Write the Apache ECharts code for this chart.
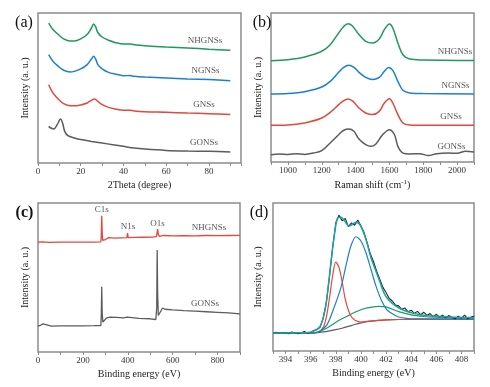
<!DOCTYPE html>
<html><head><meta charset="utf-8">
<script src="https://cdn.jsdelivr.net/npm/echarts@6/dist/echarts.min.js"></script>
<style>html,body{margin:0;padding:0;background:#fff}#c{width:490px;height:387px}</style>
</head><body><div id="c"></div>
<script>
// ---------- Panel (a): XRD, 2Theta (degree) vs intensity (a.u., offset) ----------
const aNHGNSs = [[5,93.3],[7,89],[10,85],[12,82.7],[15,81.3],[17,81.3],[20,82.7],[23,85.6],[25,90],[26,92.7],[27,90.7],[28,87],[30,84],[33,81.8],[36,80.4],[40,79.3],[43,79.4],[45,78.9],[50,78.2],[60,77.3],[70,76.7],[80,75.8],[90,75.1]];
const aNGNSs  = [[5,72.2],[7,67.8],[10,63.8],[12,61.8],[15,60.7],[17,61.1],[20,62.7],[23,65.6],[25,69.3],[26,71.1],[27,69.3],[28,65.6],[30,62.7],[33,60.4],[36,59.3],[40,58.2],[43,58.3],[45,57.8],[50,57.3],[60,56.7],[70,56],[80,55.6],[90,54.9]];
const aGNSs   = [[5,52.2],[7,46.7],[10,41.8],[12,39.6],[15,38.2],[18,38.2],[20,38.7],[23,40],[25,41.8],[26.5,42.7],[28,41.1],[30,38.9],[33,37.1],[36,36],[40,35.1],[43,35.2],[45,34.7],[50,34.2],[60,33.8],[70,33.3],[80,32.9],[90,32.4]];
const aGONSs  = [[5,24.4],[6,23.3],[7.5,22.7],[9,25.6],[10.5,29.3],[11.5,26.7],[12.5,21.1],[14,18.2],[17,16.7],[20,15.6],[25,14.4],[30,13.3],[35,12.2],[40,11.1],[45,10],[50,9.3],[60,8.4],[70,8],[80,7.8],[90,7.3]];

// ---------- Panel (b): Raman ----------
const bNHGNSs = [[900,68],[1000,68.7],[1100,70.5],[1200,74.3],[1250,78.7],[1300,86.6],[1330,91],[1355,92.8],[1380,91.5],[1420,85.5],[1460,81],[1500,79.9],[1540,82.6],[1570,88.8],[1600,92.6],[1620,89.9],[1650,79.9],[1680,72],[1720,69.1],[1800,68.5],[2000,68.2],[2100,68.2]];
const bNGNSs  = [[900,45.6],[1000,45.9],[1100,47.2],[1200,50.3],[1250,54.1],[1300,60.2],[1330,63.5],[1360,64.9],[1390,63.5],[1420,60.2],[1460,56.8],[1500,55.3],[1540,56.8],[1570,60.9],[1595,63.5],[1620,61.5],[1650,54.1],[1680,48.1],[1720,46.3],[1800,45.9],[2100,45.6]];
const bGNSs   = [[900,24.6],[1000,24.8],[1100,26.2],[1200,29.5],[1250,33.3],[1300,38.5],[1330,41.2],[1355,42.3],[1385,40.7],[1420,36.2],[1460,32.9],[1500,31.8],[1540,34],[1570,39.6],[1600,42.5],[1620,39.6],[1650,31.8],[1680,26.2],[1720,24.8],[1800,24.6],[2100,24.6]];
const bGONSs  = [[900,4.9],[950,5.4],[1000,5.1],[1050,5.6],[1100,5.1],[1150,6],[1200,7.6],[1250,12.8],[1300,18.3],[1330,21.3],[1360,22.1],[1390,20.6],[1420,15.4],[1460,11.6],[1490,10.5],[1520,12.1],[1560,18.3],[1600,21.7],[1630,18.3],[1650,10.5],[1680,6],[1720,5.4],[1780,5.6],[1830,4.3],[1880,5.6],[1950,6],[2000,5.8],[2050,7.2],[2100,6.7]];

// ---------- Panel (c): XPS survey ----------
const cNHGNSs = [[0,73.7],[20,73.9],[50,73.6],[100,73.8],[150,73.7],[200,73.8],[250,73.8],[280,73.9],[282,78],[284,91.5],[286,80],[288,75],[292,74.2],[300,75.5],[315,76.8],[340,76.4],[370,76.6],[396,76.7],[399,79.8],[402,76.8],[430,76.9],[470,77],[510,77.1],[528,77.4],[531,80.5],[533,82.5],[536,79],[541,77.6],[560,78.2],[600,78],[650,78.1],[700,78],[750,78.2],[800,78.1],[850,78.2],[900,78.3]];
const cGONSs  = [[0,17.3],[10,17.8],[22,18.9],[30,17.6],[60,17.4],[100,17.5],[150,17.6],[200,17.6],[250,17.7],[280,17.8],[282,25],[284,43.8],[286,26],[289,20],[295,20.8],[305,22.8],[320,23.4],[350,23.2],[380,22.9],[398,23.4],[400,24.2],[402,23.2],[450,22.6],[500,22.3],[525,21.8],[529,30],[531,68.5],[533,40],[536,24.5],[542,25.5],[555,29.5],[565,28.7],[600,28.3],[650,27.8],[700,27.4],[750,27],[800,26.6],[850,26.2],[900,25.6]];
const cPeakLabels = ['C1s','N1s','O1s'];

// ---------- Panel (d): N1s high resolution ----------
const dRaw = [[393,12.0],[393.25,12.6],[393.5,11.8],[393.75,12.5],[394,12.1],[394.25,11.6],[394.5,12.8],[394.75,12.2],[395,11.7],[395.25,12.4],[395.5,13.2],[395.75,12.0],[396,12.6],[396.25,13.8],[396.5,14.5],[396.75,16.0],[397,22.5],[397.25,33.0],[397.5,50.5],[397.75,70.0],[398,86.5],[398.25,91.8],[398.5,88.0],[398.75,89.6],[399,84.0],[399.25,86.5],[399.5,85.0],[399.75,88.5],[400,84.5],[400.25,80.0],[400.5,73.0],[400.75,65.5],[401,60.5],[401.25,54.0],[401.5,48.5],[401.75,43.0],[402,39.5],[402.25,35.5],[402.5,33.8],[402.75,31.0],[403,30.5],[403.25,28.2],[403.5,29.0],[403.75,26.5],[404,27.6],[404.25,25.4],[404.5,26.8],[404.75,24.5],[405,26.2],[405.25,24.0],[405.5,25.3],[405.75,23.2],[406,24.8],[406.25,23.0],[406.5,24.2],[406.75,22.4],[407,24.0],[407.25,22.6],[407.5,21.8],[407.75,23.6],[408,22.0],[408.25,24.3],[408.5,21.7],[408.75,22.9],[409,23.4]];
const dFit = [[393,12.2],[394,12.2],[395,12.3],[395.8,12.5],[396.2,13.3],[396.75,16.7],[397.15,28],[397.4,43.8],[397.7,66.4],[397.95,82.2],[398.1,89],[398.35,90.5],[398.6,89],[398.85,86],[399.05,84.4],[399.35,85.8],[399.6,87],[399.95,84.9],[400.4,75.4],[400.8,63],[401.4,49.4],[401.9,38.1],[402.45,32.5],[403,29.2],[403.5,27.2],[404,25.8],[404.5,24.9],[405,24.2],[406,23.4],[407,23],[408,22.7],[409,22.5]];
const dPyridinic = [[393,12.2],[396,12.2],[396.6,12.8],[397,16],[397.25,23],[397.5,36],[397.75,51],[398,60],[398.25,56.5],[398.5,47],[398.75,35],[399,27.5],[399.25,23],[399.5,21],[399.75,20],[400,19.6],[400.5,20],[401,20.4],[402,21],[403,21.3],[405,21.4],[409,21.5]];
const dPyrrolic = [[393,12.2],[396,12.2],[396.5,12.6],[396.75,13.3],[397.3,17.8],[397.8,28],[398.4,42.7],[398.8,57.3],[399.2,70.9],[399.6,77.2],[400,74.3],[400.4,66.4],[400.8,55.1],[401.2,43.8],[401.6,34.8],[402.05,28],[402.5,25.2],[403,23],[403.5,22.2],[404,21.8],[409,21.6]];
const dGraphitic = [[393,12.2],[396,12.2],[396.5,12.6],[397.3,15.6],[398.1,20],[398.9,23.5],[399.7,26.9],[400.5,29.1],[401.4,30.2],[402,29.8],[403,26.6],[404,24.4],[405,23.3],[406,22.8],[407,22.6],[409,22.3]];
const dBackground = [[393,12.2],[396,12.2],[396.5,12.4],[397,12.9],[397.5,13.6],[398,14.4],[398.5,15.4],[399,16.6],[399.5,17.9],[400,19.0],[400.5,19.8],[401,20.4],[402,21.0],[403,21.3],[405,21.4],[409,21.5]];

const FONT = '"Liberation Serif", "DejaVu Serif", serif';
const FRAME = '#8c8c8c';
const C_GREEN = '#1d9a5c', C_BLUE = '#1c7fd0', C_RED = '#e4473b', C_GRAY = '#5c5c5c', C_TEAL = '#1aa3a0';

function mkGrid(left, top, width, height) {
  return {left, top, width, height, show: true, borderColor: FRAME, borderWidth: 1.5, backgroundColor: 'transparent'};
}
function mkX(gi, min, max, interval, labelStep, name, extra) {
  return Object.assign({
    type: 'value', gridIndex: gi, min, max, interval,
    axisLine: {show: false},
    axisTick: {show: true, inside: false, length: 3, lineStyle: {color: FRAME, width: 1}},
    splitLine: {show: false},
    axisLabel: {margin: 4, fontFamily: FONT, fontSize: 9, color: '#333',
      formatter: v => (Math.abs(v % labelStep) < 1e-6 ? String(v) : '')},
    name, nameLocation: 'middle', nameGap: 17,
    nameTextStyle: {fontFamily: FONT, fontSize: 10, color: '#222'}
  }, extra || {});
}
function mkY(gi, gap) {
  return {type: 'value', gridIndex: gi, min: 0, max: 100,
    axisLine: {show: false}, axisTick: {show: false}, axisLabel: {show: false}, splitLine: {show: false},
    name: 'Intensity (a. u.)', nameLocation: 'middle', nameGap: gap,
    nameTextStyle: {fontFamily: FONT, fontSize: 10, color: '#222'}};
}
function mkLine(gi, data, color, smooth, width) {
  return {type: 'line', xAxisIndex: gi, yAxisIndex: gi, data, symbol: 'none', showSymbol: false,
    smooth: smooth, lineStyle: {color, width: width || 1.5}, itemStyle: {color}, z: 3};
}
function txt(text, x, y, size, opts) {
  return {type: 'text', x, y, silent: true,
    style: {text, font: (opts && opts.bold ? 'bold ' : '') + size + 'px ' + FONT,
      fill: (opts && opts.fill) || '#555', align: 'center', verticalAlign: 'middle'}};
}

const option = {
  animation: false,
  backgroundColor: '#fff',
  grid: [mkGrid(38, 13, 203, 150), mkGrid(271, 13, 203, 149), mkGrid(38, 203, 202, 149), mkGrid(273, 203, 201, 148)],
  xAxis: [
    mkX(0, 0, 95, 10, 20, '2Theta (degree)'),
    mkX(1, 900, 2100, 100, 200, 'Raman shift (cm{sup|-1})', {nameGap: 17,
      nameTextStyle: {fontFamily: FONT, fontSize: 10, color: '#222',
        rich: {sup: {fontFamily: FONT, fontSize: 7, color: '#222', verticalAlign: 'top', padding: [0, 0, 5, 0]}}}}),
    mkX(2, 0, 900, 100, 200, 'Binding energy (eV)'),
    mkX(3, 393, 409, 1, 2, 'Binding energy (eV)')
  ],
  yAxis: [mkY(0, 8), mkY(1, 8), mkY(2, 8), mkY(3, 10)],
  series: [
    mkLine(0, aNHGNSs, C_GREEN, 0.3), mkLine(0, aNGNSs, C_BLUE, 0.3), mkLine(0, aGNSs, C_RED, 0.3), mkLine(0, aGONSs, C_GRAY, 0.3),
    mkLine(1, bNHGNSs, C_GREEN, 0.35), mkLine(1, bNGNSs, C_BLUE, 0.35), mkLine(1, bGNSs, C_RED, 0.35), mkLine(1, bGONSs, C_GRAY, 0.35),
    mkLine(2, cNHGNSs, C_RED, false, 1.3), mkLine(2, cGONSs, C_GRAY, false, 1.3),
    mkLine(3, dBackground, C_GRAY, 0.3, 1.2), mkLine(3, dGraphitic, C_GREEN, 0.3, 1.2),
    mkLine(3, dPyridinic, C_RED, 0.3, 1.2), mkLine(3, dPyrrolic, C_BLUE, 0.3, 1.2),
    mkLine(3, dRaw, '#1f2a2a', false, 1.1), mkLine(3, dFit, C_TEAL, 0.3, 1.5)
  ],
  graphic: [
    txt('(a)', 24, 23, 16, {fill: '#111'}), txt('(b)', 262, 23, 16, {fill: '#111'}),
    txt('(c)', 24.5, 213, 16, {fill: '#111', bold: true}), txt('(d)', 259, 213, 16, {fill: '#111'}),
    txt('NHGNSs', 205, 41, 9), txt('NGNSs', 205.5, 71, 9), txt('GNSs', 204, 105, 9), txt('GONSs', 204, 143, 9),
    txt('NHGNSs', 455, 52, 9), txt('NGNSs', 455.5, 86, 9), txt('GNSs', 451, 117, 9), txt('GONSs', 451.5, 147, 9),
    txt(cPeakLabels[0], 101.7, 210, 9), txt(cPeakLabels[1], 128, 227, 9), txt(cPeakLabels[2], 157.5, 223.5, 9),
    txt('NHGNSs', 209, 227.5, 9), txt('GONSs', 205, 303.5, 9)
  ]
};
const chart = echarts.init(document.getElementById('c'), null, {renderer: 'canvas'});
chart.setOption(option);
</script></body></html>
